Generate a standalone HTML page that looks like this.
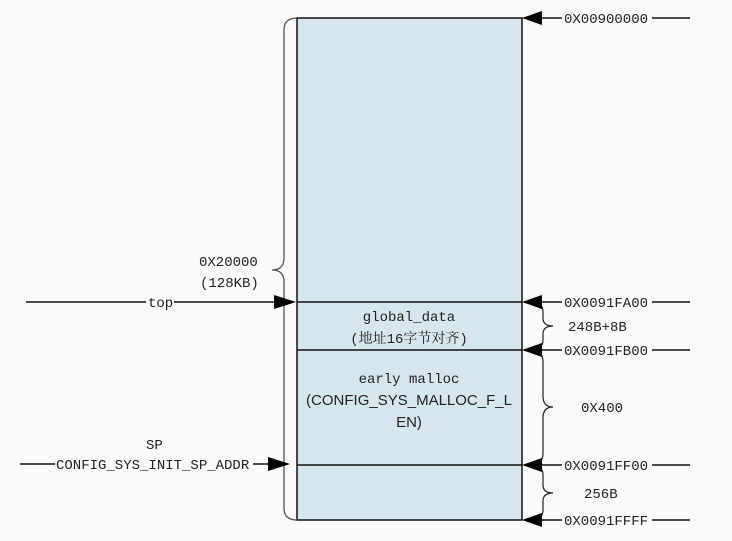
<!DOCTYPE html>
<html><head><style>body{margin:0;background:#fafafa}svg{display:block}</style></head><body>
<svg width="732" height="541" xmlns="http://www.w3.org/2000/svg" font-family="Liberation Mono, Noto Serif CJK SC, monospace" font-size="14" fill="#222">
<rect width="732" height="541" fill="#fafafa"/>
<rect x="297" y="18" width="225" height="502" fill="#d6e6ee" stroke="#111" stroke-width="1.5"/>
<g stroke="#111" stroke-width="1.5">
<line x1="297" y1="302" x2="522" y2="302"/>
<line x1="297" y1="350" x2="522" y2="350"/>
<line x1="297" y1="465" x2="522" y2="465"/>
</g>
<!-- left big brace -->
<path d="M297 18 Q284 18 284 30 L284 258 Q284 270 272 270 Q284 270 284 282 L284 508 Q284 520 297 520" fill="none" stroke="#555" stroke-width="1.3"/>
<!-- right braces -->
<g fill="none" stroke="#222" stroke-width="1.2">
<path d="M530 302 Q543 302 543 312 L543 318 Q543 326 553 326 Q543 326 543 334 L543 340 Q543 350 530 350"/>
<path d="M530 350 Q543 350 543 362 L543 396 Q543 407 553 407 Q543 407 543 418 L543 453 Q543 465 530 465"/>
<path d="M530 465 Q543 465 543 475 L543 485 Q543 493 553 493 Q543 493 543 501 L543 510 Q543 520 530 520"/>
</g>
<!-- right address arrows -->
<g stroke="#111" stroke-width="1.5">
<line x1="540" y1="18" x2="562" y2="18"/><line x1="652" y1="18" x2="690" y2="18"/>
<line x1="540" y1="302" x2="562" y2="302"/><line x1="652" y1="302" x2="690" y2="302"/>
<line x1="540" y1="350" x2="562" y2="350"/><line x1="652" y1="350" x2="690" y2="350"/>
<line x1="540" y1="465" x2="562" y2="465"/><line x1="652" y1="465" x2="690" y2="465"/>
<line x1="540" y1="520" x2="562" y2="520"/><line x1="652" y1="520" x2="690" y2="520"/>
<line x1="26" y1="302" x2="146" y2="302"/><line x1="174" y1="302" x2="275" y2="302"/>
<line x1="20" y1="464" x2="55" y2="464"/><line x1="253" y1="464" x2="270" y2="464"/>
</g>
<g fill="#000">
<polygon points="522,18 542,11 542,25"/>
<polygon points="522,302 542,295 542,309"/>
<polygon points="522,350 542,343 542,357"/>
<polygon points="522,465 542,458 542,472"/>
<polygon points="522,520 542,513 542,527"/>
<polygon points="296,302 274,295 274,309"/>
<polygon points="290,464 268,457 268,471"/>
</g>
<g>
<text x="564" y="23">0X00900000</text>
<text x="564" y="307">0X0091FA00</text>
<text x="564" y="355">0X0091FB00</text>
<text x="564" y="470">0X0091FF00</text>
<text x="564" y="525">0X0091FFFF</text>
<text x="568" y="331">248B+8B</text>
<text x="581" y="412">0X400</text>
<text x="584" y="498">256B</text>
<text x="199" y="266">0X20000</text>
<text x="200" y="287">(128KB)</text>
<text x="148" y="307">top</text>
<text x="146" y="449">SP</text>
<text x="56" y="469">CONFIG_SYS_INIT_SP_ADDR</text>
<text x="409" y="321" text-anchor="middle">global_data</text>
<text x="409" y="343" text-anchor="middle">(地址16字节对齐)</text>
<text x="409" y="383" text-anchor="middle">early malloc</text>
<text x="409" y="405" text-anchor="middle" font-family="Liberation Sans, sans-serif" font-size="15">(CONFIG_SYS_MALLOC_F_L</text>
<text x="409" y="427" text-anchor="middle" font-family="Liberation Sans, sans-serif" font-size="15">EN)</text>
</g>
</svg>
</body></html>
